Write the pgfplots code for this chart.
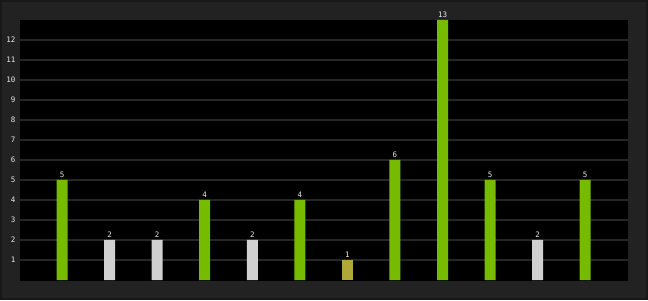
\documentclass[border=0pt]{standalone}
\usepackage{pgfplots}
\pgfplotsset{compat=1.18}
\usepackage{fontspec}
\setmonofont{DejaVu Sans Mono}
\definecolor{bgc}{RGB}{34,34,34}
\definecolor{edgec}{RGB}{24,24,24}
\definecolor{gridc}{RGB}{38,38,38}
\definecolor{barg}{RGB}{119,187,0}
\definecolor{barl}{RGB}{208,208,208}
\definecolor{baro}{RGB}{176,168,56}
\definecolor{txt}{RGB}{235,235,235}
\begin{document}
\begin{tikzpicture}[x=1pt,y=1pt]
\fill[bgc] (0,0) rectangle (648,300);
\draw[edgec,line width=2pt] (1,1) rectangle (647,299);
\begin{axis}[
  at={(20pt,19pt)}, anchor=south west,
  scale only axis, width=608pt, height=261pt,
  xmin=-0.884, xmax=11.9, ymin=-0.05, ymax=13,
  axis background/.style={fill=black},
  axis line style={draw=none},
  xtick=\empty,
  ytick={1,...,12},
  major tick length=0pt,
  ymajorgrids, grid style={gridc, line width=1.2pt},
  yticklabel style={font=\ttfamily\fontsize{7.5}{8}\selectfont, text=txt, xshift=-1pt},
  /pgf/number format/assume math mode=true,
  ybar, bar width=11pt, bar shift=0pt,
  nodes near coords,
  every node near coord/.append style={font=\ttfamily\fontsize{7.5}{8}\selectfont, text=txt, yshift=-1pt},
  clip=false,
]
\addplot[fill=barg, draw=none] coordinates {(0,5) (3,4) (5,4) (7,6) (8,13) (9,5) (11,5)};
\addplot[fill=barl, draw=none] coordinates {(1,2) (2,2) (4,2) (10,2)};
\addplot[fill=baro, draw=none] coordinates {(6,1)};
\end{axis}
\end{tikzpicture}
\end{document}
